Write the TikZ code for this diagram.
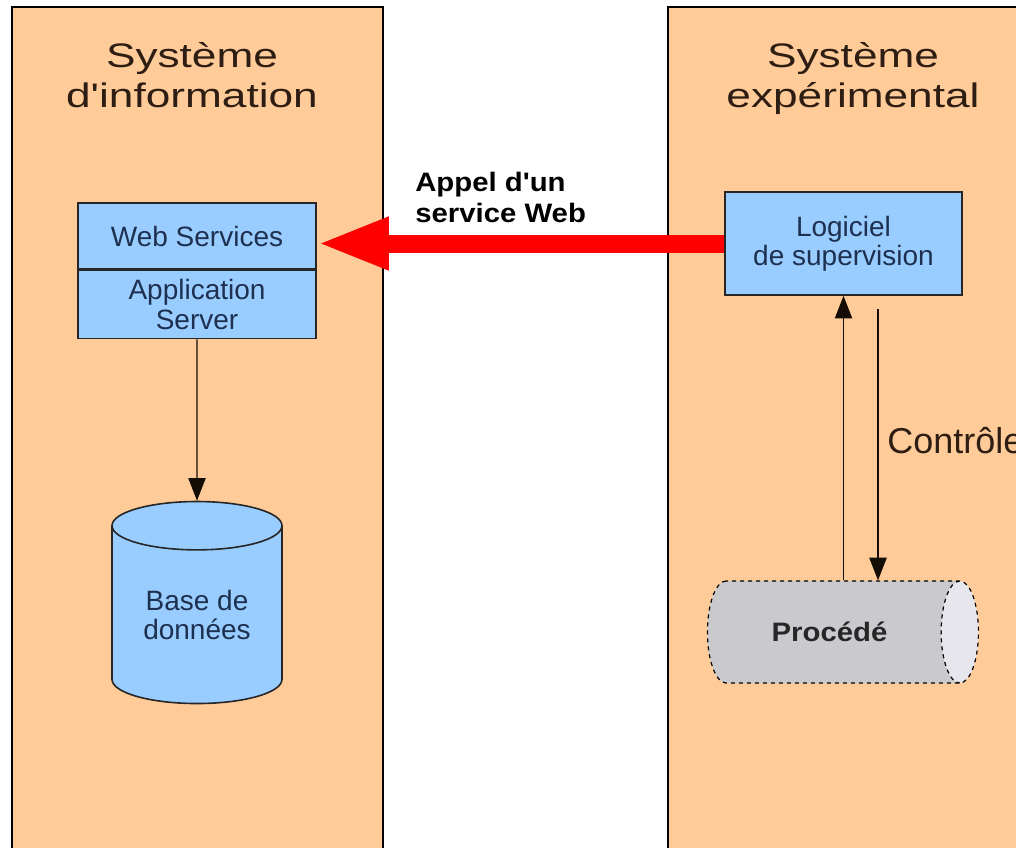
\documentclass[tikz,border=0pt]{standalone}
\usepackage{fontspec}
\setmainfont{Liberation Sans}
\newfontfamily\titlefont[FakeStretch=1.3]{Liberation Sans}
\newfontfamily\labelfont[FakeStretch=1.1]{Liberation Sans}
\usetikzlibrary{positioning,arrows.meta,shapes.geometric}
\definecolor{peach}{HTML}{FFCC99}
\definecolor{boxblue}{HTML}{99CCFF}
\definecolor{topblue}{HTML}{CCE4FF}
\definecolor{procgray}{HTML}{CACACE}
\definecolor{endgray}{HTML}{E6E6EC}
\definecolor{inkbrown}{HTML}{2E1D12}
\definecolor{inknavy}{HTML}{1E3050}
\begin{document}
\begin{tikzpicture}[x=0.75pt,y=-0.75pt,
  panel/.style={fill=peach,draw=black,line width=1pt},
  title/.style={font=\titlefont\fontsize{25.5}{30}\selectfont,text=inkbrown,align=center,inner sep=0pt,anchor=north},
  soft/.style={draw=black!85,line width=1.2pt,fill=boxblue,font=\fontsize{21}{22}\selectfont,text=inknavy,align=center,inner sep=0pt},
  thin arrow/.style={draw=black!90!brown,line width=0.9pt,-{Triangle[length=17pt,width=13pt]}},
  big arrow/.style={draw=red,line width=13.5pt,-{Triangle[length=54pt,width=36pt]}}]
      \useasboundingbox (0,0) rectangle (1016,847);

      % the two systems
      \draw [panel] (12,7) rectangle (383,860);
      \draw [panel] (668,7) rectangle (1040,860);
      \node [title] (sysinfo) at (192,42) {Système\\d'information};
      \node [title] (sysexp) at (853,42) {Système\\expérimental};

      % information side
      \node [soft,minimum width=178.5pt,minimum height=49.5pt] (ws) at (197,236) {Web Services};
      \node [soft,minimum width=178.5pt,minimum height=51pt,below=0pt of ws] (as) {Application\\Server};
      \node [soft,cylinder,shape border rotate=90,shape aspect=0.45,minimum width=127.5pt,minimum height=151.5pt,
             cylinder uses custom fill,cylinder body fill=boxblue,cylinder end fill=topblue] (db) at (197,615) {Base de\\données};
      \draw [thin arrow] (as) -- (db.north);

      % experimental side
      \node [soft,minimum width=177.75pt,minimum height=77.25pt] (sup) at (843.5,243.5) {Logiciel\\de supervision};
      \node [cylinder,draw=black,dashed,line width=0.9pt,shape aspect=1.3,minimum width=76.5pt,minimum height=203.25pt,
             cylinder uses custom fill,cylinder body fill=procgray,cylinder end fill=endgray,
             font=\labelfont\bfseries\fontsize{20}{24}\selectfont,text=black!85] (proc) at (829.5,632) {Procédé};
      \coordinate (ctl) at (878,309);
      \draw [thin arrow] (proc.north -| sup.south) -- (sup.south);
      \draw [thin arrow] (ctl) -- (ctl |- proc.north);
      \node [anchor=base west,inner sep=0pt,font=\fontsize{27}{30}\selectfont,text=inkbrown] (ctltext) at (887,453) {Contrôle};

      % web service call
      \draw [big arrow] (sup.west) -- (sup.west -| ws.east);
      \node [anchor=north west,inner sep=0pt,align=left,font=\labelfont\bfseries\fontsize{20}{23}\selectfont] (call) at (415,172) {Appel d'un\\service Web};

    \end{tikzpicture}
\end{document}
